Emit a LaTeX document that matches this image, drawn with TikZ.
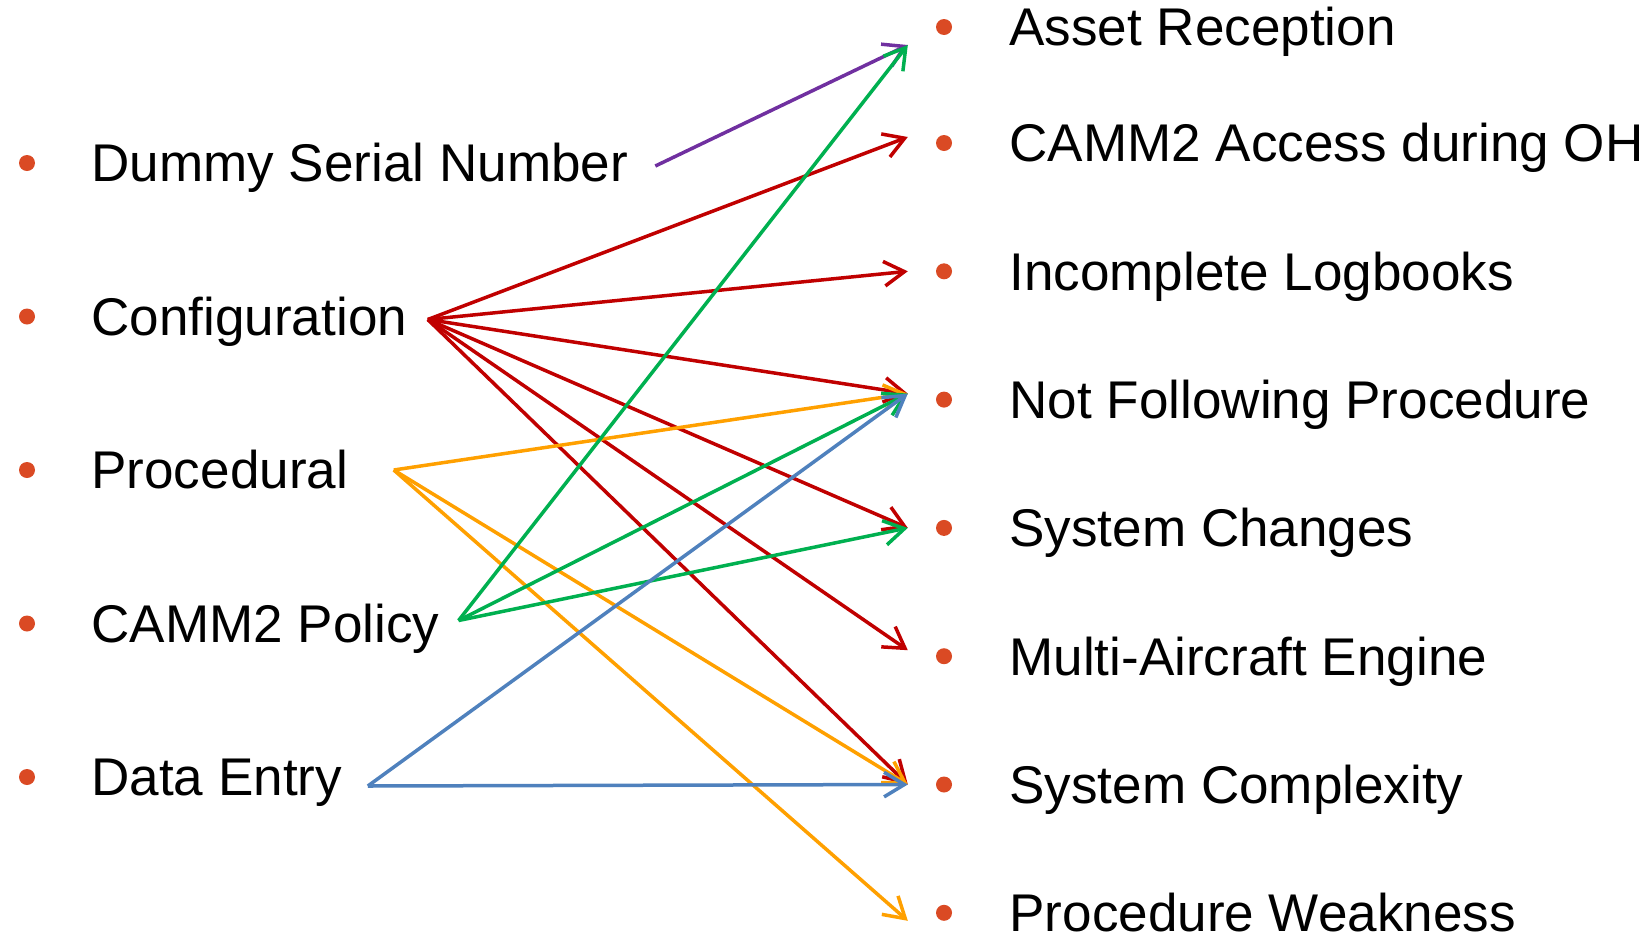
\documentclass[tikz,border=0pt]{standalone}
\usepackage{fontspec}
\setmainfont{Liberation Sans}
\usetikzlibrary{positioning,arrows.meta}

\definecolor{bulletred}{RGB}{218,74,36}
\definecolor{linkpurple}{HTML}{7030A0}
\definecolor{linkred}{HTML}{C00000}
\definecolor{linkorange}{HTML}{FFA000}
\definecolor{linkgreen}{HTML}{00B050}
\definecolor{linkblue}{HTML}{4F81BD}

\begin{document}
\begin{tikzpicture}[x=0.1mm,y=-0.1mm,node distance=15.35mm,
    >={Straight Barb[length=5.8pt,width=7pt]},
    dot/.style={circle,fill=bulletred,inner sep=0pt,minimum size=1.6mm,on grid},
    item/.style={inner sep=0pt,text height=10.8pt,text depth=0pt,font=\fontsize{15.1}{18}\selectfont},
    link/.style={->,line width=0.35mm}]
    \useasboundingbox (0,0) rectangle (1648,934);

    % causes
    \node[dot] (b1) at (27,163) {};
    \node[dot] (b2) [below=of b1] {};
    \node[dot] (b3) [below=of b2] {};
    \node[dot] (b4) [below=of b3] {};
    \node[dot] (b5) [below=of b4] {};
    \node[item] (l1) [right=5.5mm of b1] {Dummy Serial Number};
    \node[item] (l2) [right=5.5mm of b2] {Configuration};
    \node[item] (l3) [right=5.5mm of b3] {Procedural};
    \node[item] (l4) [right=5.5mm of b4] {CAMM2 Policy};
    \node[item] (l5) [right=5.5mm of b5] {Data Entry};

    % effects
    \node[dot] (c1) at (944,27) {};
    \node[dot] (c2) at (944,143) {};
    \node[dot] (c3) [below=12.83mm of c2] {};
    \node[dot] (c4) [below=12.83mm of c3] {};
    \node[dot] (c5) [below=12.83mm of c4] {};
    \node[dot] (c6) [below=12.83mm of c5] {};
    \node[dot] (c7) [below=12.83mm of c6] {};
    \node[dot] (c8) [below=12.83mm of c7] {};
    \node[item] (r1) [right=5.6mm of c1] {Asset Reception};
    \node[item] (r2) [right=5.6mm of c2] {CAMM2 Access during OH};
    \node[item] (r3) [right=5.6mm of c3] {Incomplete Logbooks};
    \node[item] (r4) [right=5.6mm of c4] {Not Following Procedure};
    \node[item] (r5) [right=5.6mm of c5] {System Changes};
    \node[item] (r6) [right=5.6mm of c6] {Multi-Aircraft Engine};
    \node[item] (r7) [right=5.6mm of c7] {System Complexity};
    \node[item] (r8) [right=5.6mm of c8] {Procedure Weakness};

    % arrow ends
    \coordinate (s1) at ([xshift=2.65mm,yshift=-0.3mm]l1.east);
    \coordinate (s2) at ([xshift=2mm,yshift=-0.3mm]l2.east);
    \coordinate (s3) at ([xshift=4.5mm]l3.east);
    \coordinate (s4) at ([xshift=1.85mm,yshift=0.3mm]l4.east);
    \coordinate (s5) at ([xshift=2.5mm,yshift=-0.9mm]l5.east);
    \coordinate (t1) at ([xshift=-2.75mm,yshift=-1.8mm]c1.west);
    \coordinate (t2) at ([xshift=-2.75mm,yshift=0.6mm]c2.west);
    \coordinate (t3) at ([xshift=-2.75mm]c3.west);
    \coordinate (t4) at ([xshift=-2.75mm,yshift=0.6mm]c4.west);
    \coordinate (t5) at ([xshift=-2.75mm]c5.west);
    \coordinate (t6) at ([xshift=-2.75mm,yshift=0.6mm]c6.west);
    \coordinate (t7) at ([xshift=-2.75mm]c7.west);
    \coordinate (t8) at ([xshift=-2.75mm,yshift=-0.8mm]c8.west);

    \path[link,color=linkpurple] (s1) edge (t1);
    \path[link,color=linkred]
        (s2) edge (t2) edge (t3) edge (t4) edge (t5) edge (t6) edge (t7);
    \path[link,color=linkorange] (s3) edge (t4) edge (t7) edge (t8);
    \path[link,color=linkgreen] (s4) edge (t1) edge (t4) edge (t5);
    \path[link,color=linkblue] (s5) edge (t4) edge (t7);
\end{tikzpicture}
\end{document}
